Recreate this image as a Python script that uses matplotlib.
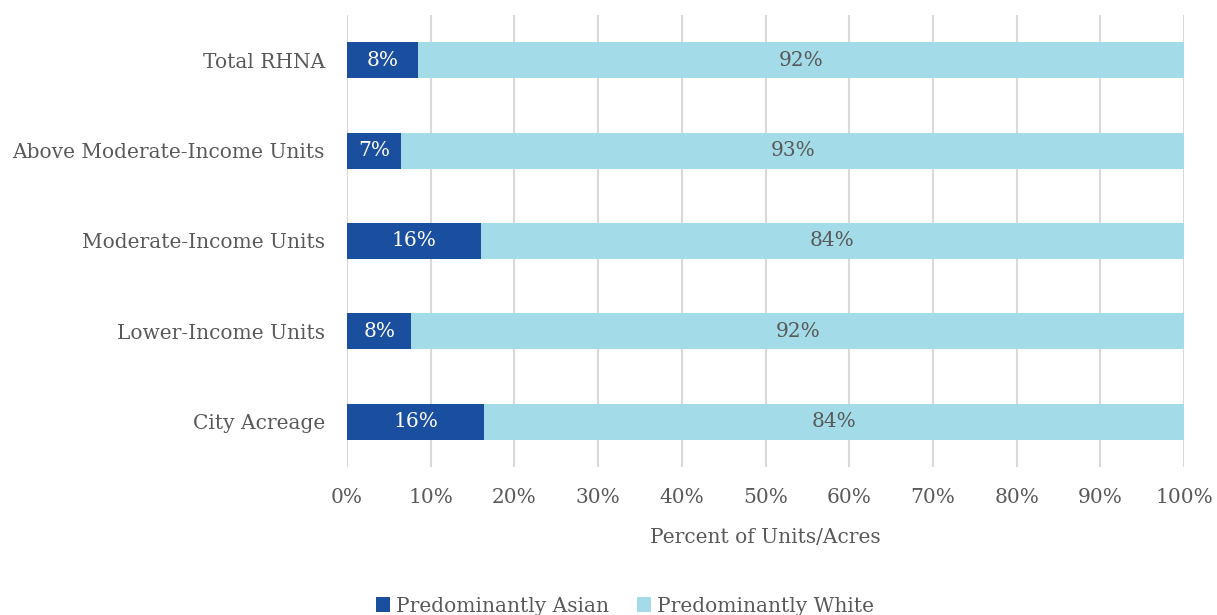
import matplotlib.pyplot as plt

categories = ['City Acreage', 'Lower-Income Units', 'Moderate-Income Units',
              'Above Moderate-Income Units', 'Total RHNA']
asian = [16.4, 7.7, 16.0, 6.5, 8.45]
white = [83.6, 92.3, 84.0, 93.5, 91.55]
asian_labels = ['16%', '8%', '16%', '7%', '8%']
white_labels = ['84%', '92%', '84%', '93%', '92%']

grey = '#595959'
fs = 14.5
plt.rcParams['font.family'] = ['DejaVu Serif']

fig = plt.figure(figsize=(12.17, 6.15), dpi=100)
ax = fig.add_axes([347 / 1217, 1 - 467 / 615, 837 / 1217, 452 / 615])

b1 = ax.barh(categories, asian, height=0.4, color='#1a4f9f', label='Predominantly Asian', zorder=3)
b2 = ax.barh(categories, white, left=asian, height=0.4, color='#a3dce8', label='Predominantly White', zorder=3)
ax.bar_label(b1, labels=asian_labels, label_type='center', color='white', fontsize=fs)
ax.bar_label(b2, labels=white_labels, label_type='center', color=grey, fontsize=fs)

ax.set_xlim(0, 100)
ax.set_ylim(-0.5, 4.5)
ax.set_xticks(range(0, 101, 10))
ax.set_xticklabels([f'{t}%' for t in range(0, 101, 10)])
ax.tick_params(axis='both', length=0, labelsize=fs, labelcolor=grey)
ax.tick_params(axis='x', pad=15)
ax.tick_params(axis='y', pad=16)
ax.grid(axis='x', color='#d9d9d9', linewidth=1.5, zorder=0)
for s in ax.spines.values():
    s.set_visible(False)
ax.set_xlabel('Percent of Units/Acres', fontsize=fs, color=grey, labelpad=15)

ax.legend(loc='center', bbox_to_anchor=(625 / 1217, 1 - 606 / 615), bbox_transform=fig.transFigure,
          ncol=2, frameon=False, fontsize=fs, labelcolor=grey, handlelength=0.7, handleheight=0.7,
          handletextpad=0.3, columnspacing=1.4)

fig.savefig('out.png', dpi=100)
